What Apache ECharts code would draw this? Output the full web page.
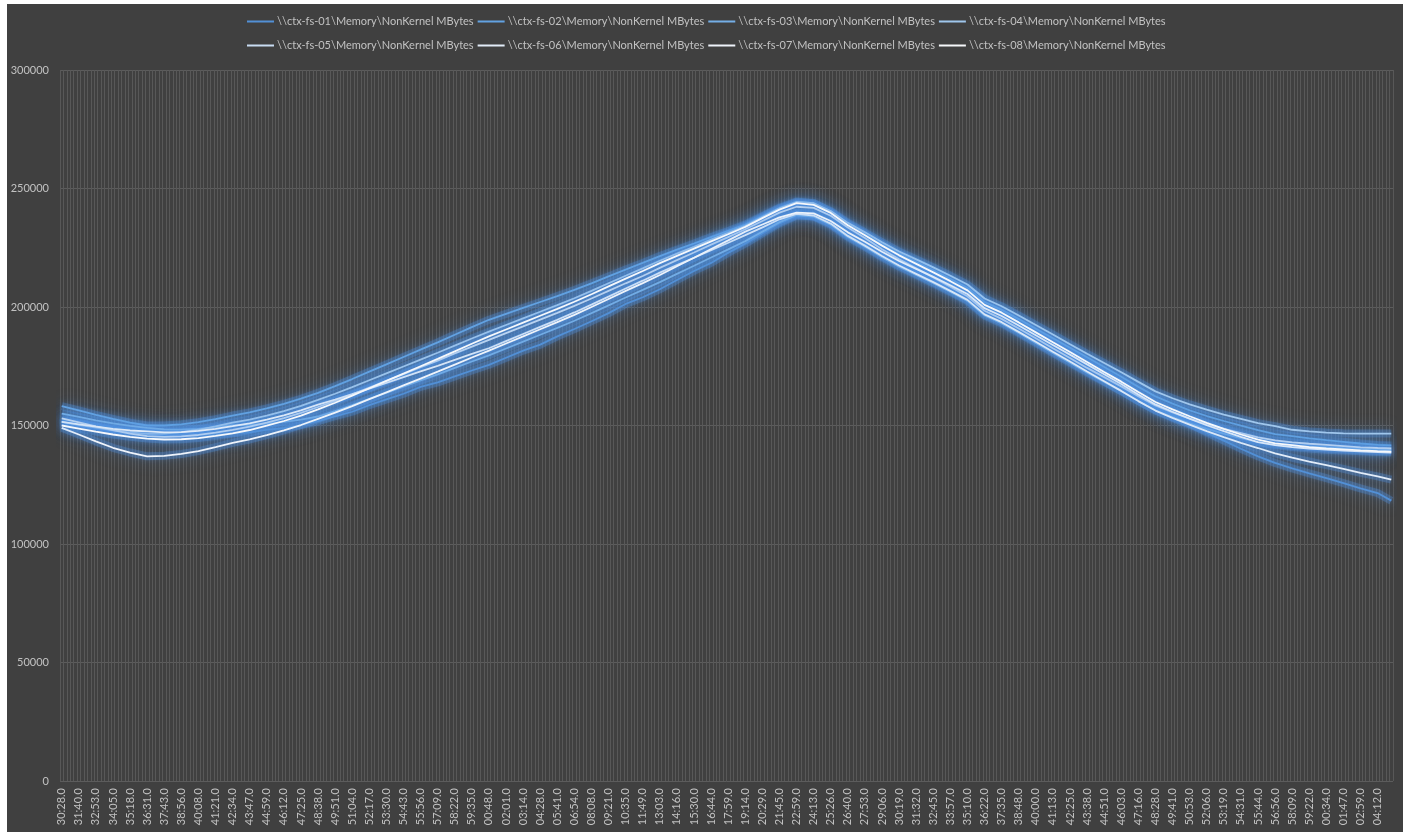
<!DOCTYPE html>
<html>
<head>
<meta charset="utf-8">
<script src="https://cdn.jsdelivr.net/npm/echarts@6/dist/echarts.min.js"></script>
<style>
  html, body { margin: 0; padding: 0; background: #ffffff; }
  #chart { position: absolute; left: 7px; top: 4px; width: 1396px; height: 828px; }
</style>
</head>
<body>
<div id="chart"></div>
<script>
// Sample time stamps shown on the category axis (one every five samples)
const timeLabels = [
  '30:28.0','31:40.0','32:53.0','34:05.0','35:18.0','36:31.0','37:43.0','38:56.0','40:08.0','41:21.0',
  '42:34.0','43:47.0','44:59.0','46:12.0','47:25.0','48:38.0','49:51.0','51:04.0','52:17.0','53:30.0',
  '54:43.0','55:56.0','57:09.0','58:22.0','59:35.0','00:48.0','02:01.0','03:14.0','04:28.0','05:41.0',
  '06:54.0','08:08.0','09:21.0','10:35.0','11:49.0','13:03.0','14:16.0','15:30.0','16:44.0','17:59.0',
  '19:14.0','20:29.0','21:45.0','22:59.0','24:13.0','25:26.0','26:40.0','27:53.0','29:06.0','30:19.0',
  '31:32.0','32:45.0','33:57.0','35:10.0','36:22.0','37:35.0','38:48.0','40:00.0','41:13.0','42:25.0',
  '43:38.0','44:51.0','46:03.0','47:16.0','48:28.0','49:41.0','50:53.0','52:06.0','53:19.0','54:31.0',
  '55:44.0','56:56.0','58:09.0','59:22.0','00:34.0','01:47.0','02:59.0','04:12.0'
];

const seriesNames = [
  '\\\\ctx-fs-01\\Memory\\NonKernel MBytes',
  '\\\\ctx-fs-02\\Memory\\NonKernel MBytes',
  '\\\\ctx-fs-03\\Memory\\NonKernel MBytes',
  '\\\\ctx-fs-04\\Memory\\NonKernel MBytes',
  '\\\\ctx-fs-05\\Memory\\NonKernel MBytes',
  '\\\\ctx-fs-06\\Memory\\NonKernel MBytes',
  '\\\\ctx-fs-07\\Memory\\NonKernel MBytes',
  '\\\\ctx-fs-08\\Memory\\NonKernel MBytes'
];

// NonKernel MBytes per server, one value per labelled time stamp plus the final sample
const fs01 = [152000,151000,150000,149100,148400,148000,146900,146300,146100,146300,146700,147100,148200,148900,150200,151800,153900,155800,158600,161000,
  163400,166300,168200,170700,173200,175600,178600,181600,184100,187600,190700,194000,197400,201300,204100,207500,211400,215200,218600,222900,
  226800,231100,235300,238600,238300,235300,230500,226800,222700,219100,216300,212800,209400,206000,200100,196800,192900,188500,184900,180800,
  176800,172100,167900,162600,157900,154300,150900,147100,143600,140200,137000,134200,131900,129800,127800,125700,123500,121500,118300];
const fs02 = [158200,156400,154500,152800,151200,150000,150000,150500,151400,152700,154200,155500,157200,159100,161300,163800,166600,169600,172700,175800,
  178900,182000,185100,188300,191500,194600,197100,199600,202100,204600,207200,210000,212900,215800,218600,221500,224200,226800,229500,232100,
  234800,238400,241900,244500,243800,240200,235000,230900,226500,222500,219000,215500,211800,208000,202100,198800,194900,190800,186800,182800,
  178800,174700,170600,166300,162300,159200,156400,154000,151900,149900,148000,146400,145500,144600,143800,143100,142400,141800,141600];
const fs03 = [155000,153600,152200,150900,149800,149000,148400,148300,148600,149300,150200,150300,150800,151500,152500,153800,156100,158600,161200,163800,
  166400,169000,171600,174300,177000,179600,182500,185400,188300,191200,194200,197400,200700,204000,207200,210500,214000,217400,220900,224300,
  227800,231800,235800,238800,238100,234700,229500,225400,221000,217000,213500,210000,206300,202500,196400,193100,189000,184800,180600,176500,
  172300,168400,164500,160300,156400,153500,150900,148600,146600,144700,143000,141900,141400,141100,140800,140400,140100,139800,139500];
const fs04 = [151500,150300,149100,148000,147100,146500,146600,147200,148200,149600,151200,152500,154200,156100,158300,160800,163400,166200,169100,172000,
  174900,177800,180700,183700,186700,189600,192400,195200,198000,200800,203700,206800,210000,213200,216300,219500,222500,225400,228400,231300,
  234300,238000,241600,244300,243800,240500,235500,231500,227300,223400,220100,216700,213200,209500,203600,200300,196400,192400,188400,184300,
  180300,176400,172500,168400,164400,161500,158900,156700,154600,152800,151000,149700,148200,147500,147000,146700,146600,146600,146600];
const fs05 = [153000,151300,149600,148000,146600,145500,145200,145400,146000,147000,148200,149500,151200,153100,155300,157800,160400,163100,166000,168800,
  171700,174600,177400,180400,183300,186100,189000,191800,194700,197500,200500,203600,206800,210000,213100,216500,219800,223000,226300,229500,
  232800,236300,239800,242300,241800,238500,233500,229100,224400,220100,216300,212500,208600,204500,198400,195000,190900,186800,182600,178500,
  174300,170400,166500,162400,158500,155500,152900,150600,148600,146800,145000,143700,142900,142300,141800,141300,140800,140500,140300];
const fs06 = [151500,150500,149500,148600,147900,147500,147100,147200,147700,148600,149700,150900,152500,154300,156400,158800,160900,163200,165600,168000,
  170400,172800,175200,177700,180200,182600,185600,188600,191600,194600,197700,201000,204400,207800,211100,214500,217700,220800,224000,227100,
  230300,233600,237000,239300,238600,235200,230000,225900,221500,217500,214000,210500,206800,203000,196900,193600,189500,185300,181100,177000,
  172800,168700,164600,160300,156300,153200,150400,147600,145100,142700,140500,138200,136400,134800,133300,131700,130000,128500,127200];
const fs07 = [149000,146200,143300,140600,138600,137000,137200,138000,139200,140900,142700,144100,145900,147900,150200,152800,155400,158200,161100,164000,
  166900,169800,172700,175700,178700,181600,184600,187600,190600,193600,196700,200000,203400,206800,210100,213500,217200,220800,224500,228100,
  231800,234800,237800,239800,239500,236300,231500,227500,223300,219400,216100,212700,209200,205500,199500,196200,192200,188100,184000,179900,
  175800,171600,167500,163100,158900,155800,152900,150100,147600,145200,143000,141700,140900,140300,139800,139400,139100,138800,138600];
const fs08 = [150000,148700,147400,146200,145200,144500,144100,144200,144700,145600,146700,148100,149900,151900,154200,156800,159600,162600,165700,168800,
  171900,175000,178100,181300,184500,187600,190500,193400,196300,199200,202200,205400,208700,212000,215200,218500,221600,224600,227700,230700,
  233800,237500,241100,243800,243100,239700,234500,230300,225900,221800,218200,214600,210900,207000,200900,197600,193500,189300,185100,181000,
  176800,172600,168500,164100,159900,156800,153900,151100,148600,146200,144000,142500,141700,140900,140300,139900,139500,139200,139000];

const seriesValues = [fs01, fs02, fs03, fs04, fs05, fs06, fs07, fs08];
const seriesColors = ['#5290d6', '#62a2e2', '#74aee6', '#9fc6ec', '#c9dcf2', '#e2ecf8', '#eef3fa', '#f6f8fb'];

// The category axis holds every sample; only every fifth one carries a label.
const STEP = 5;
const categories = [];
timeLabels.forEach(t => {
  categories.push(t);
  for (let k = 1; k < STEP; k++) categories.push('');
});

function onAxis(values) {
  const out = new Array(categories.length).fill(null);
  for (let i = 0; i < timeLabels.length; i++) out[i * STEP] = values[i];
  out[categories.length - 1] = values[values.length - 1];
  return out;
}

const FONT = 'Lato, "Open Sans", sans-serif';
const TEXT = '#c2c2c2';

const legendBase = {
  left: 240,
  padding: 0,
  orient: 'horizontal',
  icon: 'rect',
  itemWidth: 27,
  itemHeight: 2,
  itemGap: 4,
  selectedMode: false,
  textStyle: { color: TEXT, fontSize: 11, fontFamily: FONT, width: 192, padding: [0, 0, 0, -2] }
};

// Soft blue halo drawn under every server line
const haloSeries = seriesNames.map((name, idx) => ({
  name: name + ' halo',
  type: 'line',
  data: onAxis(seriesValues[idx]),
  connectNulls: true,
  symbol: 'none',
  silent: true,
  z: 1,
  lineStyle: {
    width: 8,
    color: 'rgba(80,146,228,0.3)',
    shadowColor: 'rgba(80,146,228,0.9)',
    shadowBlur: 16
  },
  emphasis: { disabled: true }
}));

const lineSeries = seriesNames.map((name, idx) => ({
  name: name,
  type: 'line',
  data: onAxis(seriesValues[idx]),
  connectNulls: true,
  symbol: 'none',
  z: 3,
  color: seriesColors[idx],
  lineStyle: {
    width: 1.8,
    color: seriesColors[idx],
    shadowColor: 'rgba(90,155,235,0.9)',
    shadowBlur: 6
  },
  emphasis: { disabled: true }
}));

const chart = echarts.init(document.getElementById('chart'), null, { renderer: 'canvas' });
chart.setOption({
  backgroundColor: '#404040',
  animation: false,
  legend: [
    Object.assign({}, legendBase, { top: 12, data: seriesNames.slice(0, 4) }),
    Object.assign({}, legendBase, { top: 36, data: seriesNames.slice(4, 8) })
  ],
  grid: { left: 53, right: 10, top: 66, bottom: 51, containLabel: false },
  xAxis: {
    type: 'category',
    data: categories,
    boundaryGap: true,
    axisLine: { show: false },
    axisTick: { show: false },
    axisLabel: {
      interval: STEP - 1,
      rotate: 90,
      color: TEXT,
      fontSize: 11,
      fontFamily: FONT,
      margin: 7
    },
    splitLine: { show: true, interval: 0, lineStyle: { color: '#585858', width: 1 } }
  },
  yAxis: {
    type: 'value',
    min: 0,
    max: 300000,
    interval: 50000,
    axisLine: { show: false },
    axisTick: { show: false },
    axisLabel: { color: TEXT, fontSize: 11, fontFamily: FONT, margin: 11, formatter: v => String(v) },
    splitLine: { show: true, lineStyle: { color: '#5c5c5c', width: 1 } }
  },
  series: haloSeries.concat(lineSeries)
});
</script>
</body>
</html>
